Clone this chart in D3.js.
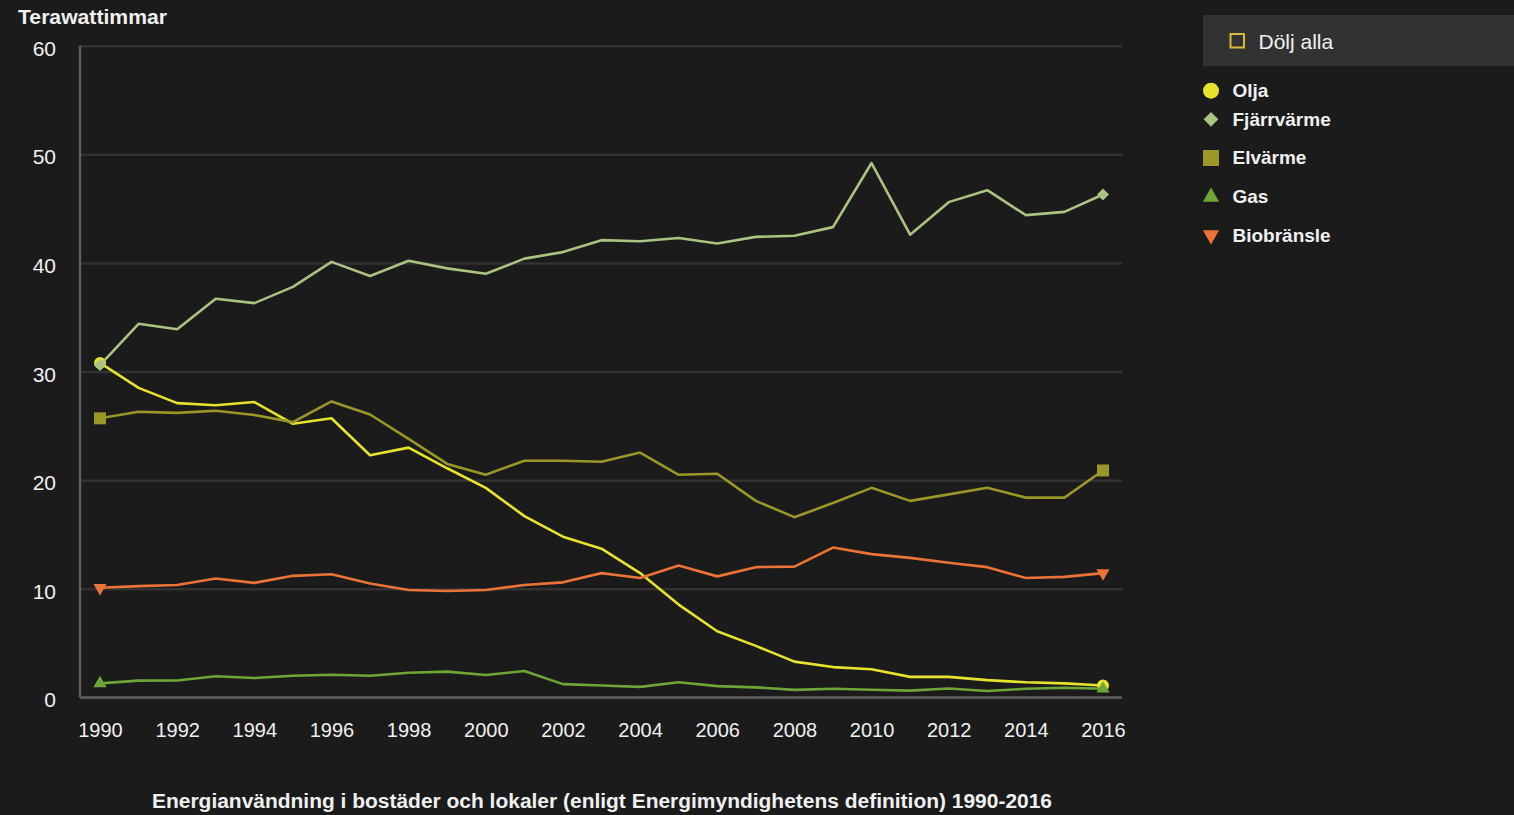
<!DOCTYPE html>
<html>
<head>
<meta charset="utf-8">
<script src="https://cdn.jsdelivr.net/npm/d3@7"></script>
<style>
  html, body { margin: 0; padding: 0; background: #1b1b1b; overflow: hidden; }
  svg { display: block; }
  text { font-family: "Liberation Sans", Arial, sans-serif; fill: #f0f0f0; }
</style>
</head>
<body>
<svg id="chart" width="1514" height="815"></svg>
<script>
// ---- data ----
const years = [1990,1991,1992,1993,1994,1995,1996,1997,1998,1999,2000,2001,2002,2003,2004,2005,2006,2007,2008,2009,2010,2011,2012,2013,2014,2015,2016];
const olja       = [30.8,28.5,27.1,26.9,27.2,25.2,25.7,22.3,23.0,21.1,19.3,16.7,14.8,13.7,11.45,8.55,6.1,4.75,3.3,2.8,2.6,1.9,1.9,1.6,1.4,1.3,1.1];
const fjarrvarme = [30.6,34.4,33.9,36.7,36.3,37.8,40.1,38.8,40.2,39.5,39.0,40.4,41.0,42.1,42.0,42.3,41.8,42.4,42.5,43.3,49.2,42.6,45.6,46.7,44.4,44.7,46.3];
const elvarme    = [25.7,26.3,26.2,26.4,26.0,25.35,27.25,26.05,23.8,21.5,20.5,21.8,21.8,21.7,22.55,20.5,20.6,18.1,16.6,17.9,19.3,18.1,18.7,19.3,18.4,18.4,20.9];
const gas        = [1.3,1.55,1.57,1.95,1.8,2.0,2.1,2.0,2.28,2.38,2.07,2.44,1.23,1.1,0.98,1.4,1.05,0.93,0.7,0.8,0.72,0.63,0.83,0.6,0.8,0.9,0.8];
const biobransle = [10.1,10.25,10.35,10.95,10.55,11.2,11.35,10.5,9.9,9.8,9.9,10.35,10.6,11.45,11.0,12.15,11.15,12.0,12.05,13.8,13.2,12.85,12.4,12.0,11.0,11.1,11.45];
const seriesNames = ["Olja","Fjärrvärme","Elvärme","Gas","Biobränsle"];
const yTicks = [0,10,20,30,40,50,60];
const xTicks = [1990,1992,1994,1996,1998,2000,2002,2004,2006,2008,2010,2012,2014,2016];
const yTitle = "Terawattimmar";
const chartTitle = "Energianvändning i bostäder och lokaler (enligt Energimyndighetens definition) 1990-2016";
const toggleLabel = "Dölj alla";

// ---- styling ----
const colors = ["#e6e22e","#aac382","#9b9628","#6ea537","#eb7337"];
const shapes = ["circle","diamond","square","triangle","triangleDown"];
const seriesValues = [olja, fjarrvarme, elvarme, gas, biobransle];

const svg = d3.select("#chart");
const plotLeft = 80, plotRight = 1122, plotTop = 45.7, plotBottom = 697.5;

const x = d3.scaleLinear().domain([1990, 2016]).range([100, 1103]);
const y = d3.scaleLinear().domain([0, 60]).range([plotBottom, plotTop]);

// gridlines
const grid = svg.append("g").attr("transform", `translate(${plotLeft},0)`)
  .call(d3.axisLeft(y).tickValues(yTicks).tickSize(-(plotRight - plotLeft)).tickFormat(""));
grid.select(".domain").remove();
grid.selectAll("line").attr("stroke", "#323232").attr("stroke-width", 2.5);

// axis lines
svg.append("line").attr("x1", plotLeft).attr("x2", plotLeft).attr("y1", plotTop).attr("y2", plotBottom)
  .attr("stroke", "#5e5e5e").attr("stroke-width", 2.5);
svg.append("line").attr("x1", plotLeft).attr("x2", plotRight).attr("y1", plotBottom).attr("y2", plotBottom)
  .attr("stroke", "#5e5e5e").attr("stroke-width", 2.5);

// y axis labels
const yAxis = svg.append("g").attr("transform", `translate(${plotLeft},0)`)
  .call(d3.axisLeft(y).tickValues(yTicks).tickSize(0).tickPadding(24));
yAxis.select(".domain").remove();
yAxis.selectAll("text").attr("font-size", 21).attr("dy", "0.45em")
  .style("font-family", '"Liberation Sans", Arial, sans-serif').attr("fill", "#f0f0f0");

// x axis labels
const xAxis = svg.append("g").attr("transform", `translate(0,${plotBottom})`)
  .call(d3.axisBottom(x).tickValues(xTicks).tickFormat(d3.format("d")).tickSize(0).tickPadding(25.5));
xAxis.select(".domain").remove();
xAxis.selectAll("text").attr("font-size", 20)
  .style("font-family", '"Liberation Sans", Arial, sans-serif').attr("fill", "#f0f0f0");

// y title
svg.append("text").attr("x", 18).attr("y", 24.3).attr("font-size", 21).attr("font-weight", "bold")
  .attr("textLength", 149).attr("lengthAdjust", "spacingAndGlyphs").text(yTitle);

// bottom title
svg.append("text").attr("x", 602).attr("y", 808).attr("text-anchor", "middle")
  .attr("font-size", 19.5).attr("font-weight", "bold")
  .attr("textLength", 900).attr("lengthAdjust", "spacingAndGlyphs").text(chartTitle);

function symbolPath(shape, size) {
  const map = { circle: d3.symbolCircle, diamond: d3.symbolSquare, square: d3.symbolSquare,
                triangle: d3.symbolTriangle, triangleDown: d3.symbolTriangle };
  return d3.symbol().type(map[shape]).size(size)();
}
function symbolRotate(shape) {
  if (shape === "diamond") return 45;
  if (shape === "triangleDown") return 180;
  return 0;
}
const markerSize = { circle: 113, diamond: 72, square: 144, triangle: 75, triangleDown: 75 };
const legendSize = { circle: 201, diamond: 108, square: 256, triangle: 115, triangleDown: 115 };

const line = d3.line().x((d, i) => x(years[i])).y(d => y(d));

seriesValues.forEach((vals, si) => {
  const g = svg.append("g");
  g.append("path").datum(vals).attr("d", line).attr("fill", "none")
    .attr("stroke", colors[si]).attr("stroke-width", 2.6).attr("stroke-linejoin", "round");
  [0, vals.length - 1].forEach(i => {
    g.append("path").attr("d", symbolPath(shapes[si], markerSize[shapes[si]]))
      .attr("transform", `translate(${x(years[i])},${y(vals[i])}) rotate(${symbolRotate(shapes[si])})`)
      .attr("fill", colors[si]);
  });
});

// legend
svg.append("rect").attr("x", 1203).attr("y", 15).attr("width", 311).attr("height", 51).attr("fill", "#323232");
svg.append("rect").attr("x", 1230.5).attr("y", 34).attr("width", 13.5).attr("height", 13.5)
  .attr("fill", "none").attr("stroke", "#d9b93a").attr("stroke-width", 2);
svg.append("text").attr("x", 1258.5).attr("y", 48.5).attr("font-size", 21).attr("fill", "#e8e8e8").text(toggleLabel);

const legendSymbolY = [90.7, 119.3, 158, 197, 235];
const legendTextY = [96.7, 125.7, 164.3, 203.3, 241.7];
seriesNames.forEach((name, si) => {
  svg.append("path").attr("d", symbolPath(shapes[si], legendSize[shapes[si]]))
    .attr("transform", `translate(1211,${legendSymbolY[si]}) rotate(${symbolRotate(shapes[si])})`)
    .attr("fill", colors[si]);
  svg.append("text").attr("x", 1232.5).attr("y", legendTextY[si]).attr("font-size", 19)
    .attr("font-weight", "bold").text(name);
});
</script>
</body>
</html>
